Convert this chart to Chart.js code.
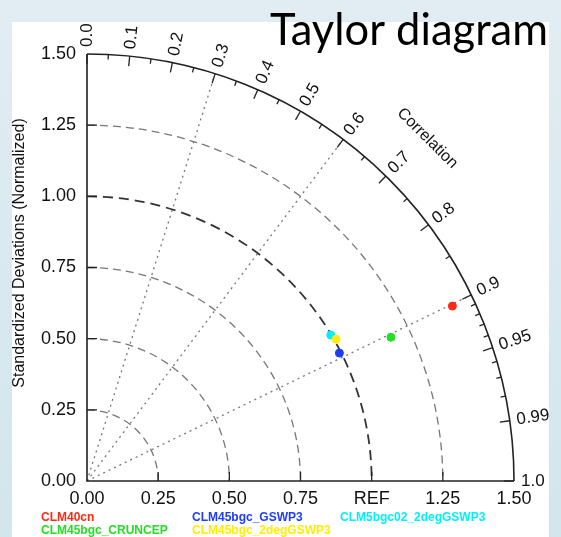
<!DOCTYPE html>
<html>
<head>
<meta charset="utf-8">
<script src="https://cdn.jsdelivr.net/npm/chart.js@4.4.0/dist/chart.umd.min.js"></script>
<style>
  body { margin: 0; background: #dbe9f0; }
  canvas { display: block; }
</style>
</head>
<body>
<canvas id="taylor" width="561" height="537"></canvas>
<script>
//Data Taylor//
const models = ["CLM40cn", "CLM45bgc_CRUNCEP", "CLM45bgc_GSWP3", "CLM45bgc_2degGSWP3", "CLM5bgc02_2degGSWP3"];
const stdDevs = [1.423, 1.181, 0.994, 1.007, 0.998];
const correlations = [0.902, 0.904, 0.892, 0.869, 0.858];
const colors = ["#ff2a12", "#22e022", "#1e3cff", "#ffee00", "#00f0ff"];

const stdTicks = [0, 0.25, 0.5, 0.75, 1.0, 1.25, 1.5];
const xTickLabels = ["0.00", "0.25", "0.50", "0.75", "REF", "1.25", "1.50"];
const yTickLabels = ["0.00", "0.25", "0.50", "0.75", "1.00", "1.25", "1.50"];
const stdArcs = [0.25, 0.5, 0.75, 1.0, 1.25];

const corrMajor = [0, 0.1, 0.2, 0.3, 0.4, 0.5, 0.6, 0.7, 0.8, 0.9, 0.95, 0.99, 1.0];
const corrLabels = ["0.0", "0.1", "0.2", "0.3", "0.4", "0.5", "0.6", "0.7", "0.8", "0.9", "0.95", "0.99", "1.0"];
const corrMinor = [0.05, 0.15, 0.25, 0.35, 0.45, 0.55, 0.65, 0.75, 0.85, 0.91, 0.92, 0.93, 0.94, 0.96, 0.97, 0.98];
const corrLines = [0.3, 0.6, 0.9];
//Akhir Data Taylor//

const taylorPlugin = {
  id: "taylor",
  beforeDraw(chart) {
    const ctx = chart.ctx;
    ctx.save();
    const g = ctx.createLinearGradient(0, 0, 0, chart.height);
    g.addColorStop(0, "#e1edf3");
    g.addColorStop(1, "#d3e5ed");
    ctx.fillStyle = g;
    ctx.fillRect(0, 0, chart.width, chart.height);
    ctx.fillStyle = "#ffffff";
    ctx.fillRect(12, 22, 537, chart.height - 22);
    ctx.restore();
  },
  beforeDatasetsDraw(chart) {
    const ctx = chart.ctx;
    const xs = chart.scales.x, ys = chart.scales.y;
    const ox = xs.getPixelForValue(0), oy = ys.getPixelForValue(0);
    const unit = xs.getPixelForValue(1) - ox;
    const R = xs.getPixelForValue(1.5) - ox;
    ctx.save();

    // std arcs
    stdArcs.forEach((s) => {
      ctx.beginPath();
      ctx.arc(ox, oy, s * unit, -Math.PI / 2, 0);
      if (s === 1.0) {
        ctx.strokeStyle = "#333";
        ctx.lineWidth = 1.8;
        ctx.setLineDash([10, 6]);
      } else {
        ctx.strokeStyle = "#777";
        ctx.lineWidth = 1.3;
        ctx.setLineDash([8, 5]);
      }
      ctx.stroke();
    });

    // correlation lines
    ctx.strokeStyle = "#777";
    ctx.lineWidth = 1.3;
    ctx.setLineDash([2, 4]);
    corrLines.forEach((c) => {
      const t = Math.acos(c);
      ctx.beginPath();
      ctx.moveTo(ox, oy);
      ctx.lineTo(ox + R * Math.cos(t), oy - R * Math.sin(t));
      ctx.stroke();
    });
    ctx.setLineDash([]);

    // axes
    ctx.strokeStyle = "#222";
    ctx.lineWidth = 1.6;
    ctx.beginPath();
    ctx.moveTo(ox, oy - R);
    ctx.lineTo(ox, oy);
    ctx.lineTo(ox + R, oy);
    ctx.stroke();
    ctx.beginPath();
    ctx.arc(ox, oy, R, -Math.PI / 2, 0);
    ctx.stroke();

    // std ticks
    ctx.lineWidth = 1.3;
    stdTicks.forEach((s) => {
      if (s === 0 || s === 1.5) return;
      const px = xs.getPixelForValue(s), py = ys.getPixelForValue(s);
      ctx.beginPath();
      ctx.moveTo(px, oy);
      ctx.lineTo(px, oy - 9);
      ctx.moveTo(ox, py);
      ctx.lineTo(ox + 10, py);
      ctx.stroke();
    });

    // std labels
    ctx.fillStyle = "#111";
    ctx.font = "18px 'Liberation Sans', Arial, sans-serif";
    ctx.textAlign = "center";
    ctx.textBaseline = "middle";
    stdTicks.forEach((s, i) => {
      ctx.fillText(xTickLabels[i], xs.getPixelForValue(s), oy + 18);
    });
    ctx.textAlign = "right";
    stdTicks.forEach((s, i) => {
      ctx.fillText(yTickLabels[i], ox - 11, ys.getPixelForValue(s));
    });

    // correlation ticks
    const tick = (c, len) => {
      const t = Math.acos(c);
      ctx.beginPath();
      ctx.moveTo(ox + R * Math.cos(t), oy - R * Math.sin(t));
      ctx.lineTo(ox + (R - len) * Math.cos(t), oy - (R - len) * Math.sin(t));
      ctx.stroke();
    };
    corrMajor.forEach((c) => tick(c, 10));
    corrMinor.forEach((c) => tick(c, 5));

    // correlation labels
    ctx.font = "17px 'Liberation Sans', Arial, sans-serif";
    ctx.textAlign = "left";
    ctx.textBaseline = "middle";
    corrMajor.forEach((c, i) => {
      const t = Math.acos(c);
      ctx.save();
      ctx.translate(ox + (R + 7) * Math.cos(t), oy - (R + 7) * Math.sin(t));
      ctx.rotate(-t);
      ctx.fillText(corrLabels[i], 0, 0);
      ctx.restore();
    });

    // Correlation title
    const ta = 45.2 * Math.PI / 180;
    ctx.save();
    ctx.translate(ox + 483 * Math.cos(ta), oy - 483 * Math.sin(ta));
    ctx.rotate(Math.PI / 2 - ta);
    ctx.textAlign = "center";
    ctx.font = "16px 'Liberation Sans', Arial, sans-serif";
    ctx.fillText("Correlation", 0, 0);
    ctx.restore();

    // y title
    ctx.save();
    ctx.translate(20, 253);
    ctx.rotate(-Math.PI / 2);
    ctx.textAlign = "center";
    ctx.font = "16px 'Liberation Sans', Arial, sans-serif";
    ctx.fillText("Standardized Deviations (Normalized)", 0, 0);
    ctx.restore();

    ctx.restore();
  },
  afterDraw(chart) {
    const ctx = chart.ctx;
    ctx.save();
    // legend, column by column
    ctx.font = "bold 12px 'Liberation Sans', Arial, sans-serif";
    ctx.textAlign = "left";
    ctx.textBaseline = "middle";
    const colX = [41, 192, 340];
    const rowY = [518, 531];
    models.forEach((m, i) => {
      ctx.fillStyle = colors[i];
      ctx.fillText(m, colX[Math.floor(i / 2)], rowY[i % 2]);
    });
    // title
    ctx.fillStyle = "#000";
    ctx.font = "44px Lato, sans-serif";
    ctx.textBaseline = "alphabetic";
    ctx.fillText("Taylor diagram", 270, 45, 278);
    ctx.restore();
  },
};

const data = {
  datasets: models.map((m, i) => ({
    label: m,
    data: [{
      x: stdDevs[i] * correlations[i],
      y: stdDevs[i] * Math.sqrt(1 - correlations[i] * correlations[i]),
    }],
    backgroundColor: colors[i],
    borderColor: colors[i],
    pointRadius: 4,
    pointHoverRadius: 4,
  })),
};

const config = {
  type: "scatter",
  data: data,
  options: {
    responsive: false,
    animation: false,
    layout: {
      padding: { left: 87, top: 54, right: 47, bottom: 56 },
    },
    scales: {
      x: { min: 0, max: 1.5, display: false },
      y: { min: 0, max: 1.5, display: false },
    },
    plugins: {
      legend: { display: false },
      tooltip: { enabled: false },
    },
  },
  plugins: [taylorPlugin],
};
const taylorChart = new Chart(document.getElementById("taylor").getContext("2d"), config);
</script>
</body>
</html>
